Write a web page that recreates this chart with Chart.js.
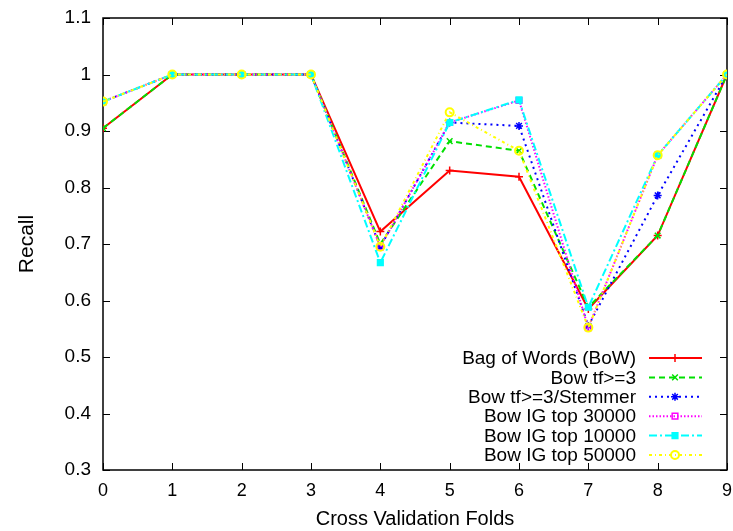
<!DOCTYPE html>
<html>
<head>
<meta charset="utf-8">
<script src="https://cdn.jsdelivr.net/npm/chart.js@4.4.1/dist/chart.umd.min.js"></script>
<style>
html, body { margin: 0; padding: 0; background: #fff; }
#wrap { width: 733px; height: 531px; }
</style>
</head>
<body>
<div id="wrap"><canvas id="recallChart" width="733" height="531"></canvas></div>
<script>
// cross validation folds and recall per fold
const folds = [0, 1, 2, 3, 4, 5, 6, 7, 8, 9];
const yTicks = [0.3, 0.4, 0.5, 0.6, 0.7, 0.8, 0.9, 1, 1.1];

const bow      = [0.905, 1, 1, 1, 0.722, 0.830, 0.819, 0.585, 0.715, 1];
const bowTf3   = [0.905, 1, 1, 1, 0.700, 0.882, 0.865, 0.588, 0.715, 1];
const bowStem  = [0.952, 1, 1, 1, 0.695, 0.915, 0.909, 0.555, 0.786, 1];
const ig30000  = [0.952, 1, 1, 1, 0.695, 0.915, 0.954, 0.552, 0.857, 1];
const ig10000  = [0.952, 1, 1, 1, 0.667, 0.915, 0.955, 0.588, 0.857, 1];
const ig50000  = [0.952, 1, 1, 1, 0.695, 0.933, 0.865, 0.552, 0.857, 1];

const seriesNames = [
    'Bag of Words (BoW)',
    'Bow tf>=3',
    'Bow tf>=3/Stemmer',
    'Bow IG top 30000',
    'Bow IG top 10000',
    'Bow IG top 50000'
];
const seriesValues = [bow, bowTf3, bowStem, ig30000, ig10000, ig50000];
const colors = ['#ff0000', '#00e000', '#0000ff', '#ff00ff', '#00ffff', '#ffff00'];
const dashes = [[], [6, 4], [2, 4], [1.5, 2], [8, 3, 2, 3], [3, 3, 1, 3]];
const markers = ['cross', 'crossRot', 'star', 'rect', 'rect', 'circle'];
const filled = [false, false, false, false, true, false];

const FONT = '"Liberation Sans", Arial, sans-serif';
Chart.defaults.font.family = FONT;
Chart.defaults.font.size = 19;
Chart.defaults.color = '#000';

const datasets = seriesNames.map((name, i) => ({
    label: name,
    data: folds.map((f, j) => ({ x: f, y: seriesValues[i][j] })),
    borderColor: colors[i],
    backgroundColor: colors[i],
    borderWidth: 2,
    borderDash: dashes[i],
    pointStyle: markers[i],
    pointRadius: 4,
    pointBorderWidth: i === 5 ? 2 : 1.5,
    pointBorderColor: colors[i],
    pointBackgroundColor: filled[i] ? colors[i] : 'rgba(0,0,0,0)',
    tension: 0,
    order: seriesNames.length - i
}));

// gnuplot-like box with inward ticks on all sides
const framePlugin = {
    id: 'frame',
    beforeDatasetsDraw(chart) {
        const { ctx, chartArea: a, scales: { x, y } } = chart;
        ctx.save();
        ctx.strokeStyle = '#000';
        ctx.lineWidth = 1;
        ctx.beginPath();
        x.ticks.forEach(t => {
            const px = Math.round(x.getPixelForValue(t.value)) + 0.5;
            ctx.moveTo(px, a.bottom); ctx.lineTo(px, a.bottom - 7);
            ctx.moveTo(px, a.top); ctx.lineTo(px, a.top + 7);
        });
        y.ticks.forEach(t => {
            const py = Math.round(y.getPixelForValue(t.value)) + 0.5;
            ctx.moveTo(a.left, py); ctx.lineTo(a.left + 7, py);
            ctx.moveTo(a.right, py); ctx.lineTo(a.right - 7, py);
        });
        ctx.stroke();
        ctx.lineWidth = 1.5;
        ctx.strokeRect(a.left, a.top, a.right - a.left, a.bottom - a.top);
        ctx.restore();
    }
};

// key in the lower right corner, text right aligned, sample on the right
const keyPlugin = {
    id: 'gpKey',
    afterDatasetsDraw(chart) {
        const { ctx, chartArea: a } = chart;
        const textRight = a.right - 91;
        const sampleL = a.right - 78;
        const sampleR = a.right - 25;
        const markX = a.right - 52;
        ctx.save();
        chart.data.datasets.forEach((ds, i) => {
            const ry = a.bottom - 112 + i * 19.4;
            ctx.fillStyle = '#000';
            ctx.font = '19px ' + FONT;
            ctx.textAlign = 'right';
            ctx.textBaseline = 'middle';
            ctx.fillText(ds.label, textRight, ry + 1);
            ctx.strokeStyle = ds.borderColor;
            ctx.lineWidth = 2;
            ctx.setLineDash(ds.borderDash);
            ctx.beginPath();
            ctx.moveTo(sampleL, ry);
            ctx.lineTo(sampleR, ry);
            ctx.stroke();
            ctx.setLineDash([]);
            ctx.fillStyle = ds.pointBackgroundColor;
            ctx.lineWidth = ds.pointBorderWidth;
            Chart.helpers.drawPoint(ctx, {
                pointStyle: ds.pointStyle,
                radius: ds.pointRadius,
                borderWidth: ds.pointBorderWidth,
                rotation: 0
            }, markX, ry);
        });
        ctx.restore();
    }
};

new Chart(document.getElementById('recallChart'), {
    type: 'line',
    data: { datasets },
    options: {
        responsive: false,
        animation: false,
        devicePixelRatio: 1,
        layout: { padding: { top: 18, right: 6, left: 0, bottom: 0 } },
        plugins: {
            legend: { display: false },
            tooltip: { enabled: false }
        },
        scales: {
            x: {
                type: 'linear',
                min: 0,
                max: 9,
                grid: { display: false, drawTicks: false },
                border: { display: false },
                ticks: { stepSize: 1, padding: 10, font: { size: 18 } },
                title: {
                    display: true,
                    text: 'Cross Validation Folds',
                    font: { size: 20 },
                    padding: { top: 0, bottom: 0 }
                },
                afterFit: s => {
                    s.height = 61;
                    s.paddingLeft = 0;
                    s.paddingRight = 0;
                }
            },
            y: {
                min: 0.3,
                max: 1.1,
                grid: { display: false, drawTicks: false },
                border: { display: false },
                afterBuildTicks: s => { s.ticks = yTicks.map(v => ({ value: v })); },
                ticks: {
                    padding: 12,
                    callback: v => String(Math.round(v * 10) / 10)
                },
                title: {
                    display: true,
                    text: 'Recall',
                    font: { size: 21 },
                    padding: { top: 15, bottom: 0 }
                },
                afterFit: s => {
                    s.width = 103;
                    s.paddingTop = 0;
                    s.paddingBottom = 0;
                }
            }
        }
    },
    plugins: [framePlugin, keyPlugin]
});
</script>
</body>
</html>
